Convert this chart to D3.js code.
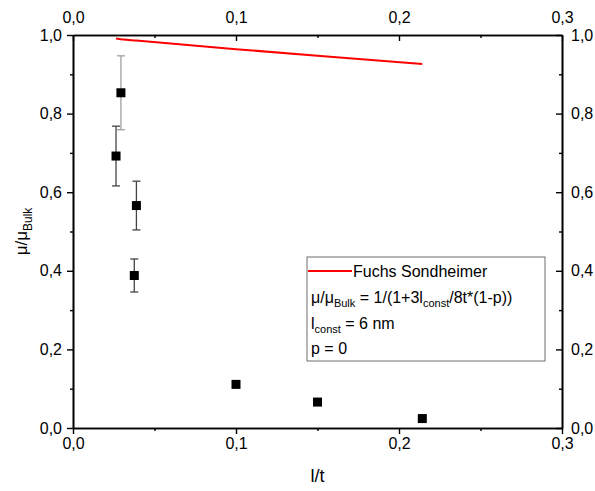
<!DOCTYPE html>
<html>
<head>
<meta charset="utf-8">
<script src="https://cdn.jsdelivr.net/npm/d3@7"></script>
<style>
  body { margin: 0; background: #fff; }
  svg text { font-family: "Liberation Sans", Arial, sans-serif; fill: #000; }
</style>
</head>
<body>
<div id="chart"></div>
<script>
// measured points (l/t vs mobility ratio)
const lengthRatio = [0.0264, 0.0294, 0.0389, 0.0376, 0.100, 0.150, 0.2143];
const mobilityRatio = [0.692, 0.853, 0.566, 0.388, 0.111, 0.066, 0.024];
const mobilityError = [0.076, 0.094, 0.062, 0.042, 0, 0, 0];

// Fuchs Sondheimer model curve
const fsRatio = [0.0264, 0.0294, 0.0376, 0.0389, 0.100, 0.150, 0.2143];
const fsMobility = [0.991, 0.989, 0.986, 0.986, 0.964, 0.947, 0.926];

const xTicks = [0, 0.1, 0.2, 0.3];
const yTicks = [0, 0.2, 0.4, 0.6, 0.8, 1.0];
const xMinor = [0.05, 0.15, 0.25];
const yMinor = [0.1, 0.3, 0.5, 0.7, 0.9];

const svgWidth = 595;
const svgHeight = 491;
const margin = { top: 35, right: 33, bottom: 63, left: 73 };
const width = svgWidth - margin.left - margin.right;
const height = svgHeight - margin.top - margin.bottom;

const locale = d3.formatLocale({ decimal: ",", thousands: ".", grouping: [3], currency: ["", ""] });
const fmt = locale.format(".1f");

const svg = d3.select("#chart")
    .append("svg")
    .attr("width", svgWidth)
    .attr("height", svgHeight);

const chartGroup = svg.append("g")
    .attr("transform", `translate(${margin.left}, ${margin.top})`);

const xScale = d3.scaleLinear().domain([0, 0.3]).range([0, width]);
const yScale = d3.scaleLinear().domain([0, 1]).range([height, 0]);

// axes: bottom/left ticks outward, top/right ticks inward
function styleAxis(g) {
    g.selectAll("path.domain").attr("stroke", "#000").attr("stroke-width", 1.6);
    g.selectAll(".tick line").attr("stroke", "#000").attr("stroke-width", 1.4);
    g.selectAll(".tick text").style("font-size", "16px");
}

const bottomAxis = d3.axisBottom(xScale).tickValues(xTicks).tickFormat(fmt).tickSize(6).tickPadding(4).tickSizeOuter(0);
const topAxis = d3.axisTop(xScale).tickValues(xTicks).tickFormat(fmt).tickSize(-6).tickPadding(12).tickSizeOuter(0);
const leftAxis = d3.axisLeft(yScale).tickValues(yTicks).tickFormat(fmt).tickSize(6).tickPadding(5).tickSizeOuter(0);
const rightAxis = d3.axisRight(yScale).tickValues(yTicks).tickFormat(fmt).tickSize(-6).tickPadding(9).tickSizeOuter(0);

chartGroup.append("g").attr("transform", `translate(0, ${height})`).call(bottomAxis).call(styleAxis);
chartGroup.append("g").call(topAxis).call(styleAxis);
chartGroup.append("g").call(leftAxis).call(styleAxis);
chartGroup.append("g").attr("transform", `translate(${width}, 0)`).call(rightAxis).call(styleAxis);

// minor ticks
const minorX = d3.axisBottom(xScale).tickValues(xMinor).tickFormat("").tickSize(3).tickSizeOuter(0);
const minorXTop = d3.axisTop(xScale).tickValues(xMinor).tickFormat("").tickSize(-3).tickSizeOuter(0);
const minorY = d3.axisLeft(yScale).tickValues(yMinor).tickFormat("").tickSize(3).tickSizeOuter(0);
const minorYRight = d3.axisRight(yScale).tickValues(yMinor).tickFormat("").tickSize(-3).tickSizeOuter(0);
chartGroup.append("g").attr("transform", `translate(0, ${height})`).call(minorX).call(styleAxis);
chartGroup.append("g").call(minorXTop).call(styleAxis);
chartGroup.append("g").call(minorY).call(styleAxis);
chartGroup.append("g").attr("transform", `translate(${width}, 0)`).call(minorYRight).call(styleAxis);

// model line
const fsData = fsRatio.map((x, i) => ({ x: x, y: fsMobility[i] }));
chartGroup.append("path")
    .datum(fsData)
    .attr("fill", "none")
    .attr("stroke", "#ff0000")
    .attr("stroke-width", 2)
    .attr("d", d3.line().x(d => xScale(d.x)).y(d => yScale(d.y)));

// measured data with error bars
const points = lengthRatio.map((x, i) => ({ x: x, y: mobilityRatio[i], err: mobilityError[i] }));
const barColor = (d, i) => i === 1 ? "#a0a0a0" : "#444";
const capHalf = 4;

const bars = chartGroup.selectAll("g.errbar")
    .data(points.filter(d => d.err > 0))
    .enter()
    .append("g")
    .attr("class", "errbar")
    .attr("stroke", barColor)
    .attr("stroke-width", 1.3);

bars.append("line")
    .attr("x1", d => xScale(d.x)).attr("x2", d => xScale(d.x))
    .attr("y1", d => yScale(d.y + d.err)).attr("y2", d => yScale(d.y - d.err));
bars.append("line")
    .attr("x1", d => xScale(d.x) - capHalf).attr("x2", d => xScale(d.x) + capHalf)
    .attr("y1", d => yScale(d.y + d.err)).attr("y2", d => yScale(d.y + d.err));
bars.append("line")
    .attr("x1", d => xScale(d.x) - capHalf).attr("x2", d => xScale(d.x) + capHalf)
    .attr("y1", d => yScale(d.y - d.err)).attr("y2", d => yScale(d.y - d.err));

const markerSize = 9;
chartGroup.selectAll("rect.point")
    .data(points)
    .enter()
    .append("rect")
    .attr("class", "point")
    .attr("x", d => xScale(d.x) - markerSize / 2)
    .attr("y", d => yScale(d.y) - markerSize / 2)
    .attr("width", markerSize)
    .attr("height", markerSize)
    .attr("fill", "#000");

// legend
const legend = svg.append("g").attr("transform", "translate(307, 257)");
legend.append("rect")
    .attr("width", 238).attr("height", 104)
    .attr("fill", "#fff").attr("stroke", "#6e6e6e").attr("stroke-width", 1);
legend.append("line")
    .attr("x1", 1).attr("x2", 45).attr("y1", 14).attr("y2", 14)
    .attr("stroke", "#ff0000").attr("stroke-width", 2);
legend.append("text").attr("x", 46).attr("y", 20).style("font-size", "16px").text("Fuchs Sondheimer");

const eq = legend.append("text").attr("x", 4).attr("y", 46).style("font-size", "16px");
eq.append("tspan").text("μ/μ");
eq.append("tspan").attr("dy", 4).style("font-size", "11px").text("Bulk");
eq.append("tspan").attr("dy", -4).text(" = 1/(1+3l");
eq.append("tspan").attr("dy", 4).style("font-size", "11px").text("const");
eq.append("tspan").attr("dy", -4).text("/8t*(1-p))");

const lc = legend.append("text").attr("x", 4).attr("y", 72).style("font-size", "16px");
lc.append("tspan").text("l");
lc.append("tspan").attr("dy", 4).style("font-size", "11px").text("const");
lc.append("tspan").attr("dy", -4).text(" = 6 nm");

legend.append("text").attr("x", 4).attr("y", 97).style("font-size", "16px").text("p = 0");

// axis titles
svg.append("text")
    .attr("x", margin.left + width / 2)
    .attr("y", 482)
    .attr("text-anchor", "middle")
    .style("font-size", "18px")
    .text("l/t");

const yTitle = svg.append("text")
    .attr("transform", `translate(27, ${margin.top + height / 2}) rotate(-90)`)
    .attr("text-anchor", "middle")
    .style("font-size", "17px");
yTitle.append("tspan").text("μ/μ");
yTitle.append("tspan").attr("dy", 5).style("font-size", "12px").text("Bulk");
</script>
</body>
</html>
